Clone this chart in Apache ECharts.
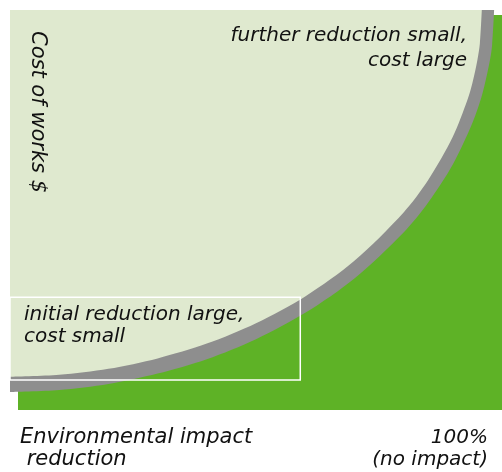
<!DOCTYPE html>
<html lang="en">
<head>
  <meta charset="UTF-8">
  <title>Cost of works vs environmental impact reduction</title>
  <script src="https://cdn.jsdelivr.net/npm/echarts@6/dist/echarts.min.js"></script>
  <style>
    html, body { margin: 0; padding: 0; background: #fff; }
  </style>
</head>
<body>
  <div id="main" style="width: 502px; height: 472px;"></div>

  <script>
    // reduction (% of the way to no impact)
    let reduction = [0, 10, 20, 30, 40, 50, 60, 70, 80, 85, 90, 93, 94, 95, 95.5, 95.9]
    // cost of works along the light edge (0 = none, 100 = top of chart)
    let cost = [8.3, 8.8, 10.3, 12.9, 16.6, 21.7, 28.4, 37.3, 49.4, 57.5, 68.3, 77.6, 81.8, 87.5, 91.6, 100]

    // outer edge of the grey shadow
    let shadowReduction = [0, 10, 20, 30, 40, 50, 60, 70, 80, 85, 90, 94, 96, 97.5, 98, 98.4]
    let shadowCost = [4.5, 5.0, 6.5, 9.1, 12.7, 17.7, 24.3, 32.9, 44.4, 51.9, 61.4, 71.8, 79.0, 87.1, 91.4, 100]

    // "initial reduction" zone: [reduction from, cost from], [reduction to, cost to]
    let zone = [[0, 7.5], [59, 28.2]]

    let xLabels = ['Environmental impact\n reduction', '100%\n(no impact)']
    let yLabel = 'Cost of works $'
    let notes = ['further reduction small,\ncost large', 'initial reduction large,\ncost small']

    let zip = (xs, ys) => xs.map((x, i) => [x, ys[i]])

    let myChart = echarts.init(document.querySelector('#main'))

    let font = '"DejaVu Sans", sans-serif'
    let txt = (x, y, text, size, lh, align, rot) => ({
      type: 'text', x: x, y: y, z: 100, rotation: rot || 0,
      style: { text: text, font: 'italic ' + size + 'px ' + font, fill: '#111', lineHeight: lh, align: align || 'left', verticalAlign: 'top' }
    })

    let options = {
      animation: false,
      grid: { left: 10, right: 0, top: 10, bottom: 62 },
      xAxis: { type: 'value', min: 0, max: 100, show: false },
      yAxis: { type: 'value', min: 0, max: 100, show: false },
      graphic: [
        // green field behind the curve
        { type: 'rect', z: -10, shape: { x: 18, y: 15, width: 484, height: 395 }, style: { fill: '#5eb226' } },
        txt(48, 31, yLabel, 21, 22, 'left', -Math.PI / 2),
        txt(467, 23, notes[0], 20, 25, 'right'),
        txt(24, 304, notes[1], 20, 22, 'left'),
        txt(20, 427, xLabels[0], 21, 22, 'left'),
        txt(488, 427, xLabels[1], 20, 22, 'right')
      ],
      series: [
        {
          type: 'line',
          data: zip(shadowReduction, shadowCost),
          smooth: 0.3,
          symbol: 'none',
          lineStyle: { width: 0 },
          areaStyle: { origin: 'end', color: '#8e8e8e', opacity: 1 }
        },
        {
          type: 'line',
          data: zip(reduction, cost),
          smooth: 0.3,
          symbol: 'none',
          lineStyle: { width: 0 },
          areaStyle: { origin: 'end', color: '#dfe9cf', opacity: 1 }
        },
        {
          // white outline around the "initial reduction" zone
          type: 'line',
          data: [],
          markArea: {
            silent: true,
            z: 20,
            itemStyle: { color: 'rgba(0,0,0,0)', borderColor: '#fff', borderWidth: 1.5 },
            data: [[{ coord: zone[0] }, { coord: zone[1] }]]
          }
        }
      ]
    }
    myChart.setOption(options)
  </script>
</body>
</html>
